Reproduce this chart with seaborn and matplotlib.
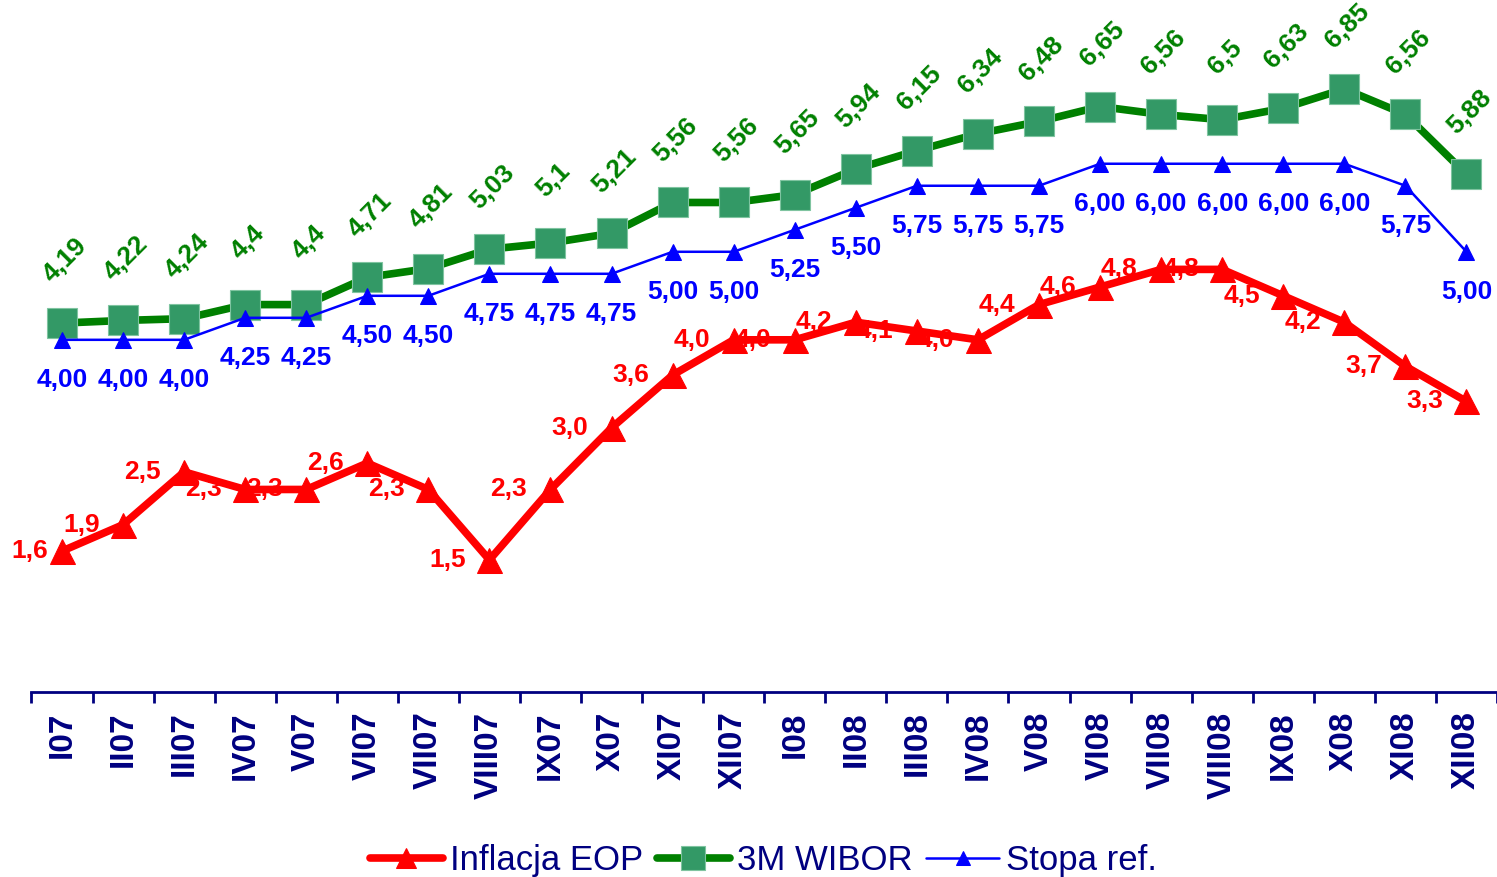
import matplotlib
matplotlib.use("Agg")
import matplotlib.pyplot as plt
import seaborn as sns
import pandas as pd
import numpy as np

months = ["I07", "II07", "III07", "IV07", "V07", "VI07", "VII07", "VIII07", "IX07", "X07",
          "XI07", "XII07", "I08", "II08", "III08", "IV08", "V08", "VI08", "VII08", "VIII08",
          "IX08", "X08", "XI08", "XII08"]
inflacja = [1.6, 1.9, 2.5, 2.3, 2.3, 2.6, 2.3, 1.5, 2.3, 3.0, 3.6, 4.0,
            4.0, 4.2, 4.1, 4.0, 4.4, 4.6, 4.8, 4.8, 4.5, 4.2, 3.7, 3.3]
wibor = [4.19, 4.22, 4.24, 4.4, 4.4, 4.71, 4.81, 5.03, 5.1, 5.21, 5.56, 5.56,
         5.65, 5.94, 6.15, 6.34, 6.48, 6.65, 6.56, 6.5, 6.63, 6.85, 6.56, 5.88]
wibor_labels = ["4,19", "4,22", "4,24", "4,4", "4,4", "4,71", "4,81", "5,03", "5,1", "5,21",
                "5,56", "5,56", "5,65", "5,94", "6,15", "6,34", "6,48", "6,65", "6,56", "6,5",
                "6,63", "6,85", "6,56", "5,88"]
stopa = [4.00, 4.00, 4.00, 4.25, 4.25, 4.50, 4.50, 4.75, 4.75, 4.75, 5.00, 5.00,
         5.25, 5.50, 5.75, 5.75, 5.75, 6.00, 6.00, 6.00, 6.00, 6.00, 5.75, 5.00]

sns.set_theme(style="white")
plt.rcParams["font.family"] = ["Liberation Sans", "DejaVu Sans"]

NAVY = "#000080"
RED = "#FF0000"
GREEN = "#008000"
SQ = "#339966"
BLUE = "#0000FF"

idx = np.arange(len(months))
df = pd.DataFrame({"idx": idx, "Inflacja EOP": inflacja, "3M WIBOR": wibor, "Stopa ref.": stopa})

fig = plt.figure(figsize=(14.97, 8.77), dpi=100)
ax = fig.add_axes([0.021, 0.211, 0.979, 0.789])

sns.lineplot(data=df, x="idx", y="3M WIBOR", ax=ax, color=GREEN, linewidth=5.5,
             marker="s", markersize=21, markerfacecolor=SQ, markeredgecolor="#7fc4a0",
             markeredgewidth=0.8, label="3M WIBOR", zorder=3)
sns.lineplot(data=df, x="idx", y="Stopa ref.", ax=ax, color=BLUE, linewidth=1.8,
             marker="^", markersize=12, markerfacecolor=BLUE, markeredgecolor=BLUE,
             label="Stopa ref.", zorder=4)
sns.lineplot(data=df, x="idx", y="Inflacja EOP", ax=ax, color=RED, linewidth=5.5,
             marker="^", markersize=18, markerfacecolor=RED, markeredgecolor=RED,
             label="Inflacja EOP", zorder=5)

lab_kw = dict(textcoords="offset points", ha="center", va="center",
              fontsize=19, fontweight="bold")
for i in idx:
    # keep the first label inside the plotting area
    dx = -23 if i == 0 else -30
    ax.annotate(f"{inflacja[i]:.1f}".replace(".", ","), (i, inflacja[i]),
                xytext=(dx, 0), color=RED, zorder=2, **lab_kw)
    ax.annotate(wibor_labels[i], (i, wibor[i]), xytext=(2, 45), rotation=45,
                color=GREEN, zorder=6, **lab_kw)
    ax.annotate(f"{stopa[i]:.2f}".replace(".", ","), (i, stopa[i]),
                xytext=(0, -29), color=BLUE, zorder=6, **lab_kw)

ax.set_xlim(-0.5, len(months) - 0.5)
ax.set_ylim(0, 7.86)
ax.set_xticks(idx)
ax.set_xticklabels(months, rotation=90, fontsize=24, fontweight="bold", color=NAVY)
ax.set_xticks(np.arange(-0.5, len(months)), minor=True)
ax.tick_params(axis="x", which="major", length=0, pad=14)
ax.tick_params(axis="x", which="minor", length=8, width=2, color=NAVY, direction="out", bottom=True)
ax.set_yticks([])
ax.set_xlabel("")
ax.set_ylabel("")
for s in ["top", "right", "left"]:
    ax.spines[s].set_visible(False)
ax.spines["bottom"].set_color(NAVY)
ax.spines["bottom"].set_linewidth(2)

handles, labels = ax.get_legend_handles_labels()
order = [labels.index(n) for n in ["Inflacja EOP", "3M WIBOR", "Stopa ref."]]
leg = ax.legend([handles[k] for k in order], [labels[k] for k in order],
                loc="center", bbox_to_anchor=(0.51, 0.019), bbox_transform=fig.transFigure,
                ncol=3, frameon=False, fontsize=25, handlelength=2.1, handletextpad=0.2,
                columnspacing=0.4, markerscale=0.8)
for t in leg.get_texts():
    t.set_color(NAVY)

fig.savefig("out.png", dpi=100)
